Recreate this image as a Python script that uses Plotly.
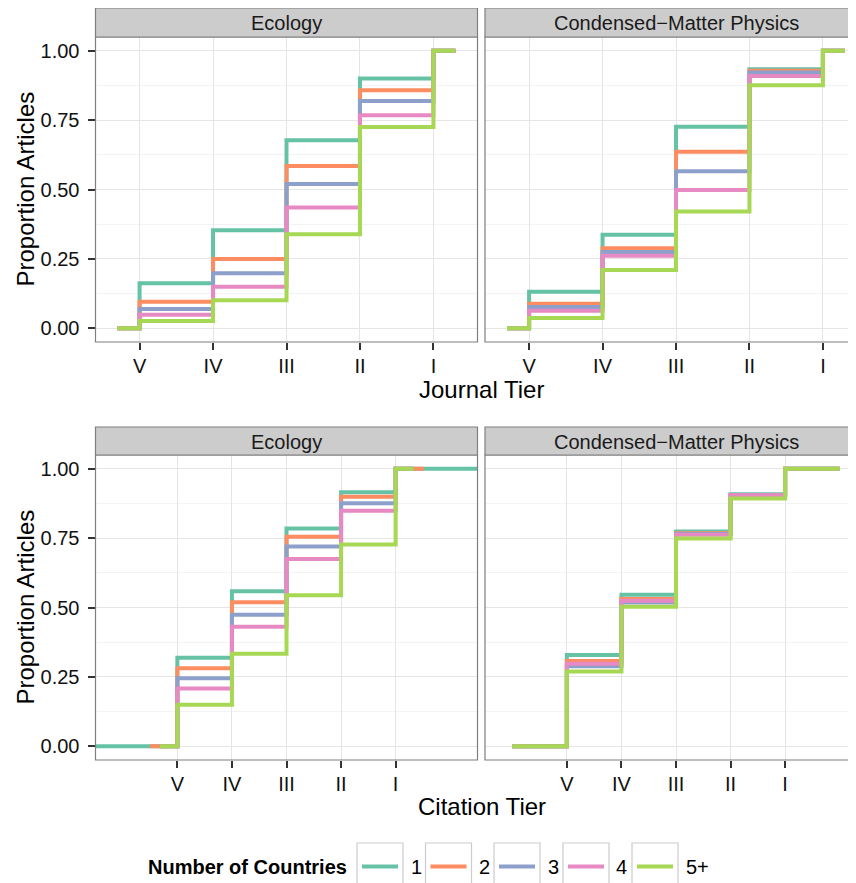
import plotly.graph_objects as go

# ---------------- data ----------------
tier_labels = ["V", "IV", "III", "II", "I"]
tier_pos = [1, 2, 3, 4, 5]
groups = ["1", "2", "3", "4", "5+"]
group_colors = ["#66C2A5", "#FC8D62", "#8DA0CB", "#E78AC3", "#A6D854"]
facets = ["Ecology", "Condensed\u2212Matter Physics"]

# cumulative proportion at tiers V, IV, III, II, I (one list per group)
eco_journal = [
    [0.162, 0.353, 0.678, 0.900, 1.0],
    [0.095, 0.249, 0.585, 0.858, 1.0],
    [0.069, 0.198, 0.520, 0.819, 1.0],
    [0.048, 0.149, 0.435, 0.768, 1.0],
    [0.026, 0.101, 0.339, 0.725, 1.0],
]
cmp_journal = [
    [0.131, 0.337, 0.726, 0.934, 1.0],
    [0.088, 0.288, 0.636, 0.928, 1.0],
    [0.076, 0.275, 0.566, 0.922, 1.0],
    [0.0625, 0.261, 0.498, 0.909, 1.0],
    [0.037, 0.210, 0.421, 0.876, 1.0],
]
eco_citation = [
    [0.319, 0.559, 0.785, 0.916, 1.0],
    [0.281, 0.519, 0.755, 0.899, 1.0],
    [0.245, 0.474, 0.720, 0.876, 1.0],
    [0.208, 0.431, 0.675, 0.849, 1.0],
    [0.149, 0.333, 0.544, 0.727, 1.0],
]
cmp_citation = [
    [0.329, 0.546, 0.774, 0.908, 1.0],
    [0.307, 0.531, 0.768, 0.906, 1.0],
    [0.288, 0.518, 0.765, 0.905, 1.0],
    [0.297, 0.524, 0.762, 0.905, 1.0],
    [0.269, 0.503, 0.749, 0.893, 1.0],
]
# start / end x of each step line
journal_start = [0.7, 0.7, 0.7, 0.7, 0.7]
journal_end = [5.3, 5.3, 5.3, 5.3, 5.3]
eco_citation_start = [-0.6, 0.5, 0.68, 0.68, 0.68]
eco_citation_end = [6.6, 5.52, 5.33, 5.33, 5.33]
cmp_citation_start = [0.0, 0.0, 0.0, 0.0, 0.0]
cmp_citation_end = [6.0, 6.0, 6.0, 6.0, 6.0]

# ---------------- layout helpers ----------------
PAGE_W, PAGE_H = 856, 883
OFF = 8  # default body margin of the html page
W, H = PAGE_W - OFF, PAGE_H - OFF
FONT = "Liberation Sans, Arial, Helvetica, sans-serif"


def fx(p):
    return (p - OFF) / W


def fy(p):
    return 1 - (p - OFF) / H


panels = {
    # name: (x0, x1, y0, y1) in page pixels
    "TL": (95.5, 477.5, 37, 342),
    "TR": (485, 856, 37, 342),
    "BL": (95.5, 477.5, 455, 760),
    "BR": (485, 856, 455, 760),
}
strips_y = {"T": (8, 37), "B": (427, 455)}

fig = go.Figure()

panel_defs = [
    ("TL", "x", "y", eco_journal, journal_start, journal_end),
    ("TR", "x2", "y2", cmp_journal, journal_start, journal_end),
    ("BL", "x3", "y3", eco_citation, eco_citation_start, eco_citation_end),
    ("BR", "x4", "y4", cmp_citation, cmp_citation_start, cmp_citation_end),
]

for name, xa, ya, vals, starts, ends in panel_defs:
    for gi, g in enumerate(groups):
        xs = [starts[gi]] + tier_pos + [ends[gi]]
        ys = [0.0] + vals[gi] + [vals[gi][-1]]
        fig.add_trace(go.Scatter(
            x=xs, y=ys, mode="lines", line_shape="hv",
            line=dict(color=group_colors[gi], width=4),
            xaxis=xa, yaxis=ya, showlegend=False, name=g,
            hoverinfo="skip",
        ))

axis_common = dict(
    showline=False, zeroline=False, showgrid=True, gridcolor="#E5E5E5",
    gridwidth=1, ticks="outside", tickcolor="#333333", tickwidth=1.5,
    ticklen=7, tickfont=dict(family=FONT, size=20, color="#111111"),
)

layout = dict(
    width=W, height=H, margin=dict(l=0, r=0, t=0, b=0),
    paper_bgcolor="white", plot_bgcolor="white", showlegend=False,
)

top_range = [0.4, 5.6]
bot_range = [-0.5, 6.5]


def clipped_range(rng, full_px, vis_px):
    return [rng[0], rng[0] + (rng[1] - rng[0]) * vis_px / full_px]


full_w = 382.0
for idx, (name, xa, ya, *_rest) in enumerate(panel_defs):
    x0, x1, y0, y1 = panels[name]
    rng = top_range if name[0] == "T" else bot_range
    if name[1] == "R":
        rng = clipped_range(rng, full_w, x1 - x0)
    xk = "xaxis" if idx == 0 else f"xaxis{idx + 1}"
    yk = "yaxis" if idx == 0 else f"yaxis{idx + 1}"
    layout[xk] = dict(
        axis_common, domain=[fx(x0), fx(x1)], range=rng,
        tickvals=tier_pos, ticktext=tier_labels, anchor=ya,
        ticklabelstandoff=-1,
    )
    ydict = dict(
        axis_common, domain=[fy(y1), fy(y0)], range=[-0.05, 1.05],
        tickvals=[0, 0.25, 0.5, 0.75, 1.0],
        ticktext=["0.00", "0.25", "0.50", "0.75", "1.00"],
        anchor=xa, ticklabelstandoff=4,
        minor=dict(showgrid=True, gridcolor="#F3F3F3", tick0=0.125, dtick=0.25,
                   ticks=""),
    )
    if name[1] == "R":
        ydict["showticklabels"] = False
        ydict["ticks"] = ""
    layout[yk] = ydict

fig.update_layout(**layout)

shapes = []
annotations = []

# panel borders
for name, (x0, x1, y0, y1) in panels.items():
    xr = x1 if name[1] == "L" else 868
    shapes.append(dict(type="rect", xref="paper", yref="paper",
                       x0=fx(x0), x1=fx(xr), y0=fy(y1), y1=fy(y0),
                       line=dict(color="#7F7F7F", width=1.2), layer="above"))

# strips
for row in ["T", "B"]:
    sy0, sy1 = strips_y[row]
    for ci, col in enumerate(["L", "R"]):
        x0, x1, _, _ = panels[row + col]
        xr = x1 if col == "L" else 868
        shapes.append(dict(type="rect", xref="paper", yref="paper",
                           x0=fx(x0), x1=fx(xr), y0=fy(sy1), y1=fy(sy0),
                           fillcolor="#CCCCCC",
                           line=dict(color="#7F7F7F", width=1.2), layer="above"))
        cx = (x0 + (x1 if col == "L" else 867.5)) / 2
        annotations.append(dict(text=facets[ci], xref="paper", yref="paper",
                                x=fx(cx), y=fy((sy0 + sy1) / 2 + 0.5),
                                xanchor="center", yanchor="middle",
                                showarrow=False,
                                font=dict(family=FONT, size=20, color="#1a1a1a")))

# axis titles
title_font = dict(family=FONT, size=24, color="black")
annotations.append(dict(text="Journal Tier", xref="paper", yref="paper",
                        x=fx(481.5), y=fy(389.5), xanchor="center", yanchor="middle",
                        showarrow=False, font=title_font))
annotations.append(dict(text="Citation Tier", xref="paper", yref="paper",
                        x=fx(481.5), y=fy(806.5), xanchor="center", yanchor="middle",
                        showarrow=False, font=title_font))
for cy in [189.5, 607.5]:
    annotations.append(dict(text="Proportion Articles", xref="paper", yref="paper",
                            x=fx(25), y=fy(cy), xanchor="center", yanchor="middle",
                            textangle=-90, showarrow=False, font=title_font))

# legend (drawn manually in ggplot style)
legend_y = 866.5
annotations.append(dict(text="<b>Number of Countries</b>", xref="paper", yref="paper",
                        x=fx(349), y=fy(legend_y), xanchor="right", yanchor="middle",
                        showarrow=False, font=dict(family=FONT, size=20, color="black")))
box_left = [357, 425.5, 494, 563, 632]
label_left = [409, 477, 545.5, 614, 683.5]
for gi, g in enumerate(groups):
    bx = box_left[gi]
    shapes.append(dict(type="rect", xref="paper", yref="paper",
                       x0=fx(bx), x1=fx(bx + 46), y0=fy(889), y1=fy(843),
                       fillcolor="white", line=dict(color="#CCCCCC", width=1.2)))
    shapes.append(dict(type="line", xref="paper", yref="paper",
                       x0=fx(bx + 5), x1=fx(bx + 41), y0=fy(legend_y), y1=fy(legend_y),
                       line=dict(color=group_colors[gi], width=4)))
    annotations.append(dict(text=g, xref="paper", yref="paper",
                            x=fx(label_left[gi]), y=fy(legend_y), xanchor="left",
                            yanchor="middle", showarrow=False,
                            font=dict(family=FONT, size=20, color="black")))

fig.update_layout(shapes=shapes, annotations=annotations)
fig.write_html("out.html")
